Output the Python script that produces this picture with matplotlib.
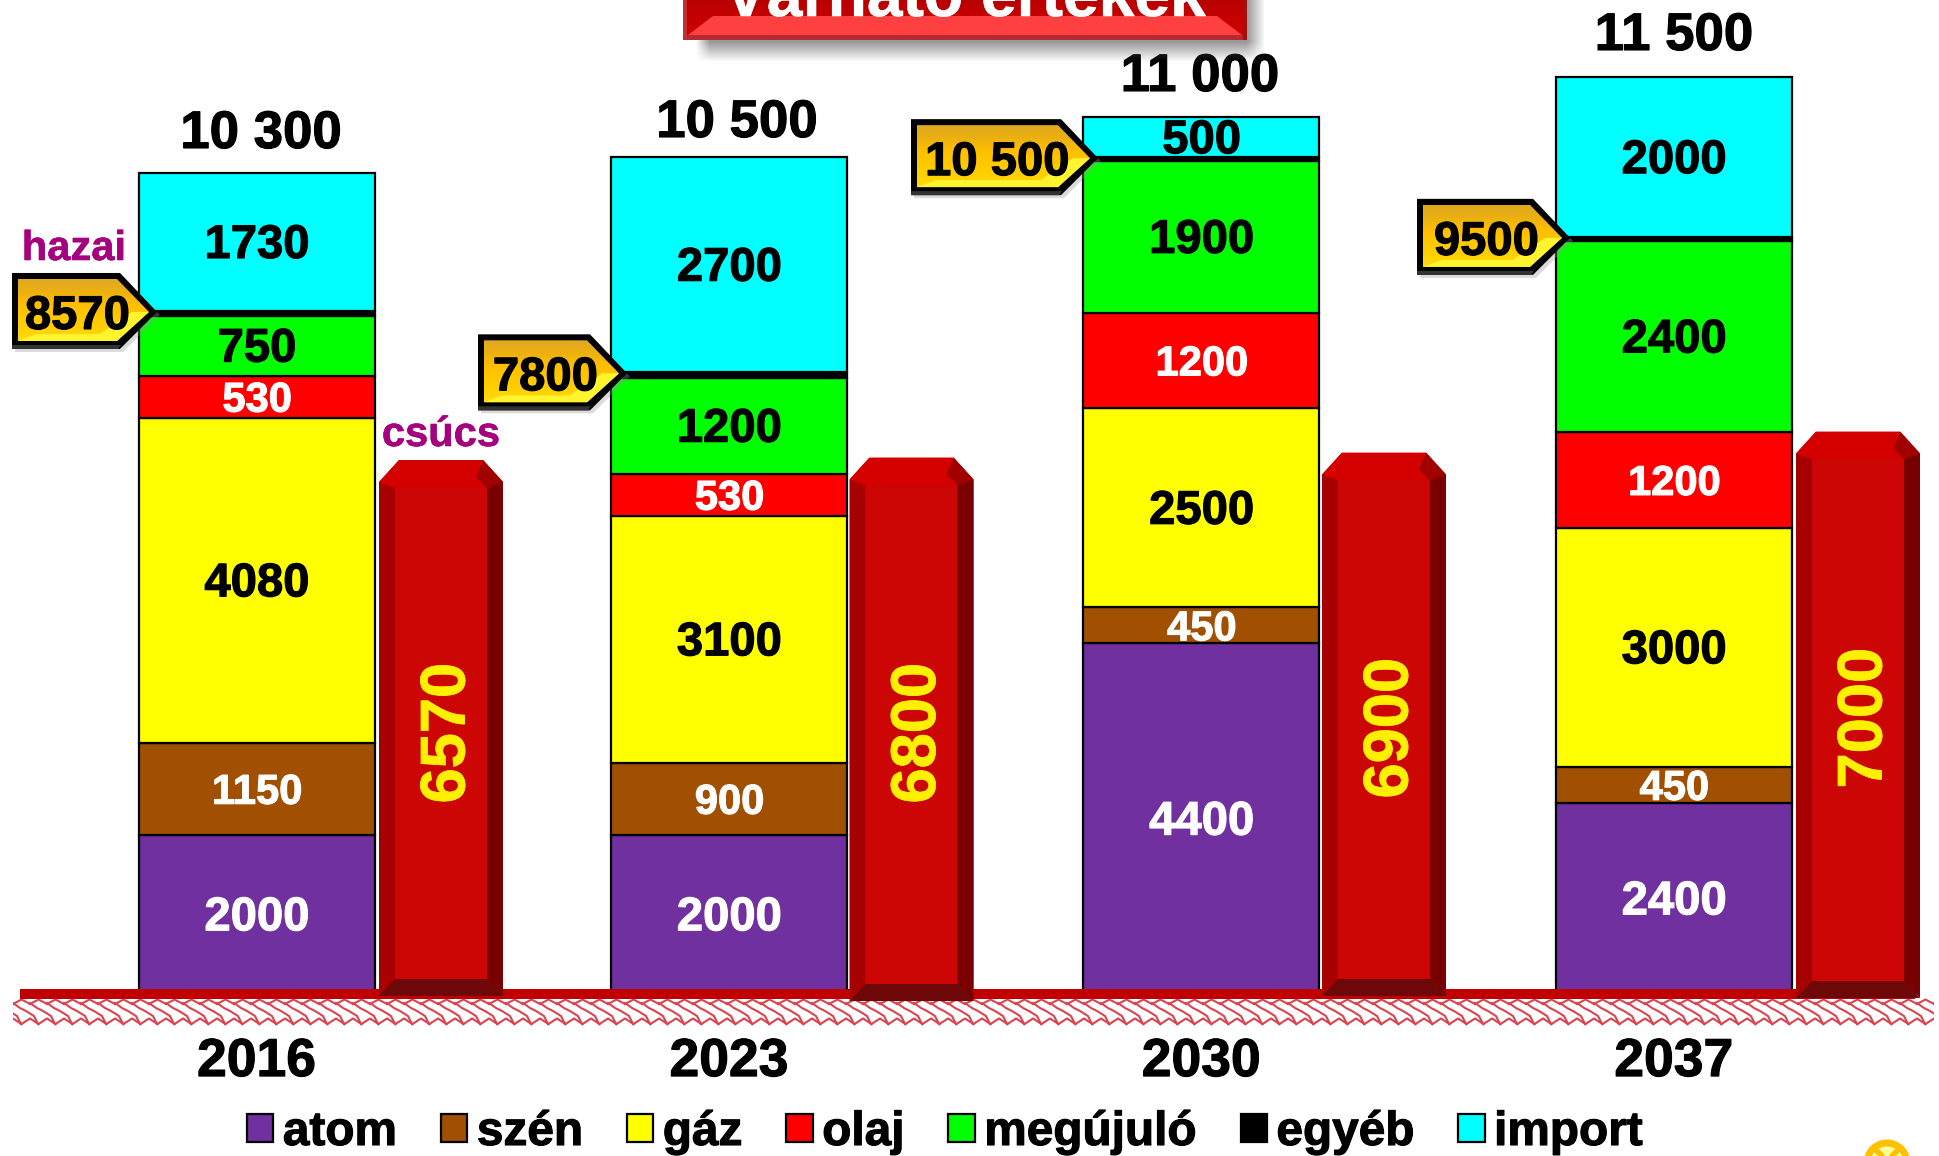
import numpy as np
import matplotlib
matplotlib.use("Agg")
import matplotlib.pyplot as plt
from matplotlib.patches import Polygon, Rectangle, Circle
import matplotlib.patheffects as pe
from matplotlib.colors import LinearSegmentedColormap

plt.rcParams['font.family'] = ['Liberation Sans', 'DejaVu Sans']
plt.rcParams['font.weight'] = 'bold'

# ---------- data ----------
years = ['2016', '2023', '2030', '2037']
series_names = ['atom', 'szén', 'gáz', 'olaj', 'megújuló', 'egyéb', 'import']
atom = [2000, 2000, 4400, 2400]
szen = [1150, 900, 450, 450]
gaz = [4080, 3100, 2500, 3000]
olaj = [530, 530, 1200, 1200]
megujulo = [750, 1200, 1900, 2400]
egyeb = [60, 70, 50, 50]
imports = [1730, 2700, 500, 2000]
totals = ['10 300', '10 500', '11 000', '11 500']
hazai = [8570, 7800, 10500, 9500]
hazai_labels = ['8570', '7800', '10 500', '9500']
csucs = [6570, 6800, 6900, 7000]
# drawn extents of the peak columns, in chart units
csucs_top = [6700, 6731, 6793, 7057]
csucs_base = [-25, -88, -25, -50]

colors = ['#7030A0', '#A05000', '#FFFF00', '#FF0000', '#00FF00', '#000000', '#00FFFF']
text_colors = ['white', 'white', 'black', 'white', 'black', None, 'black']
text_sizes = [34, 30, 34, 30, 34, 0, 34]

# ---------- layout ----------
W, H = 1939, 1156
BASE = 994.0
PX = 0.0797  # pixels per unit
centers = np.array([256.6, 729.0, 1201.3, 1673.8])
bar_w = 236
peak_x = [379, 849.5, 1322, 1796]
peak_w = 124
callout_left = [12, 478, 911, 1417]
callout_tip = [157, 627, 1098, 1570]
total_xy = [(261, 134), (737, 123), (1200, 77), (1674, 36)]
peak_label_y = [733, 733, 728, 718]
MAGENTA = '#A5007D'

y_px = lambda v: BASE - v * PX
u = lambda py: (BASE - py) / PX

fig = plt.figure(figsize=(W / 100, H / 100), dpi=100, facecolor='white')
ax = fig.add_axes([0, (H - BASE) / H, 1, BASE / H])
ax.set_xlim(0, W)
ax.set_ylim(0, BASE / PX)
for s in ax.spines.values():
    s.set_visible(False)
ax.set_yticks([])
ax.patch.set_alpha(0)


def txt(a, x, y, s, size, color='black', **kw):
    stroke = kw.pop('stroke', 0.8)
    t = a.text(x, y, s, fontsize=size, color=color, ha=kw.pop('ha', 'center'),
               va=kw.pop('va', 'center'), fontweight='bold', **kw)
    if stroke:
        t.set_path_effects([pe.withStroke(linewidth=stroke, foreground=color)])
    return t


# stacked bars
stack = [atom, szen, gaz, olaj, megujulo, egyeb, imports]
bottom = np.zeros(4)
handles = []
for i, vals in enumerate(stack):
    vals = np.array(vals, float)
    b = ax.bar(centers, vals, bar_w, bottom=bottom, color=colors[i],
               edgecolor='black', linewidth=1.6, label=series_names[i], zorder=3)
    handles.append(b)
    if text_colors[i]:
        for x, v, bt in zip(centers, vals, bottom):
            txt(ax, x + 0.5, bt + v / 2 - 50, f'{int(v)}', text_sizes[i], text_colors[i], zorder=6)
    bottom += vals

# ground line and hatched band
ax.add_patch(Rectangle((20, u(999)), 1895, u(989) - u(999), color='#C00000', lw=0,
                       zorder=3.5, clip_on=False))
for x0 in np.arange(13 - 17, W, 17.0):
    tx = np.array([0, 8.5, 17]) + x0
    ax.plot(tx, [u(1004), u(999.5), u(1004)], color='#DA4450', lw=1.5, zorder=1, clip_on=False)
    dx = np.array([0, 7, 13, 21, 25]) + x0
    ax.plot(dx, [u(1003), u(1008), u(1011), u(1016), u(1024)], color='#DA4450', lw=1.5,
            zorder=1, clip_on=False)
    bx = np.array([8.5, 17, 25.5]) + x0
    ax.plot(bx, [u(1024), u(1018.5), u(1024)], color='#DA4450', lw=1.5, zorder=1, clip_on=False)
ax.add_patch(Rectangle((0, u(1040)), 13, u(990) - u(1040), color='white', lw=0, zorder=1.5,
                       clip_on=False))
ax.add_patch(Rectangle((1934, u(1040)), 10, u(990) - u(1040), color='white', lw=0, zorder=1.5,
                       clip_on=False))

# peak columns
for i in range(4):
    X0 = peak_x[i]
    X1 = X0 + peak_w
    top, base = csucs_top[i], csucs_base[i]
    T, B = y_px(top), y_px(base)
    xi0, xi1 = X0 + 16, X1 - 16
    outline = Polygon([(X0, u(T + 22)), (X0 + 20, u(T)), (X1 - 20, u(T)), (X1, u(T + 22)),
                       (X1, u(B)), (X0, u(B))], transform=ax.transData, fc='none', ec='none')
    bars = ax.bar(X0 + peak_w / 2, top - base, peak_w, bottom=base, color='#CC0505', lw=0, zorder=4)
    for r in bars:
        r.set_clip_on(True)
        r.set_clip_path(outline)
    ax.add_patch(Polygon([(X0, u(T + 22)), (X0 + 20, u(T)), (X1 - 20, u(T)), (X1, u(T + 22)),
                          (xi1, u(T + 28)), (xi0, u(T + 28))], color='#D40000', lw=0, zorder=4.2))
    ax.add_patch(Polygon([(X1 - 20, u(T)), (X1, u(T + 22)), (xi1, u(T + 28)), (X1 - 27, u(T + 17))],
                         color='#A00000', lw=0, zorder=4.3))
    ax.add_patch(Polygon([(X0, u(T + 22)), (xi0, u(T + 28)), (xi0, u(B - 17)), (X0, u(B))],
                         color='#A60000', lw=0, zorder=4.3, clip_on=False))
    ax.add_patch(Polygon([(X1, u(T + 22)), (xi1, u(T + 28)), (xi1, u(B - 17)), (X1, u(B))],
                         color='#780000', lw=0, zorder=4.3, clip_on=False))
    ax.add_patch(Polygon([(xi0, u(B - 17)), (xi1, u(B - 17)), (X1, u(B)), (X0, u(B))],
                         color='#6E0808', lw=0, zorder=4.4, clip_on=False))
    txt(ax, X0 + peak_w / 2 + 7, u(peak_label_y[i]), str(csucs[i]), 45.5, '#FFF000', rotation=90, zorder=6,
        stroke=0.6)

# totals above the bars
for (x, py), s in zip(total_xy, totals):
    txt(ax, x, u(py), s, 38, zorder=7)

# axis labels
ax.set_xticks(centers)
ax.set_xticklabels(years, fontsize=38.5, fontweight='bold',
                   path_effects=[pe.withStroke(linewidth=0.8, foreground='black')])
ax.tick_params(axis='x', length=0, pad=31)

# legend
leg = ax.legend(handles=handles, labels=series_names, ncol=7, frameon=False, fontsize=34.4,
                loc='lower left', bbox_to_anchor=(247 / W, 1 - 1155 / H),
                bbox_transform=fig.transFigure, borderpad=0, borderaxespad=0,
                handlelength=0.55, handleheight=0.53, handletextpad=0.2, columnspacing=0.92)
for t in leg.get_texts():
    t.set_path_effects([pe.withStroke(linewidth=0.8, foreground='black')])
for p in leg.get_patches():
    p.set_linewidth(1.6)

# ---------- overlay in pixel coordinates ----------
ov = fig.add_axes([0, 0, 1, 1], zorder=10)
ov.set_axis_off()
ov.patch.set_alpha(0)


def grad(a, x0, x1, y0, y1, cols, clip=None, z=1):
    cm = LinearSegmentedColormap.from_list('g', cols)
    g = np.linspace(0, 1, 128).reshape(-1, 1)
    im = a.imshow(g, cmap=cm, extent=(x0, x1, y1, y0), aspect='auto', zorder=z, interpolation='bilinear')
    if clip is not None:
        im.set_clip_path(clip)
    return im


txt(ov, 74, 249, 'hazai', 30, MAGENTA, stroke=0.4)
txt(ov, 441, 435, 'csúcs', 30, MAGENTA, stroke=0.4)

# callouts
for i in range(4):
    L, Tip = callout_left[i], callout_tip[i]
    ty = y_px(hazai[i]) + 1
    top, bot = ty - 39, ty + 37
    sh = Tip - 37
    bw = 6
    outer = [(L, top), (sh, top), (Tip, ty), (sh, bot), (L, bot)]
    ov.add_patch(Polygon([(x + 3, y + 3) for x, y in outer], color='#999999', alpha=.35, lw=0, zorder=2))
    ov.add_patch(Polygon(outer, color='black', lw=0, zorder=3))
    inner = [(L + bw, top + bw), (sh - 3, top + bw), (Tip - 8, ty), (sh - 3, bot - bw - 2), (L + bw, bot - bw - 2)]
    clip = Polygon(inner, transform=ov.transData, fc='none', ec='none')
    ov.add_patch(clip)
    grad(ov, L, Tip, top + bw, bot - bw - 2,
         ['#E0A822', '#EBB010', '#FFBE00', '#FFC800', '#FFD000', '#FFDC10'], clip, z=4)
    ov.add_patch(Polygon([(L + bw, bot - bw - 2), (L + 25, ty + 22), (sh - 20, ty + 22), (sh + 12, ty),
                          (Tip - 8, ty), (sh - 3, bot - bw - 2)], color='#FFF42E', lw=0, zorder=4.5))
    ov.add_patch(Polygon([(L, bot - 4), (sh + 1, bot - 4), (sh - 2, bot), (L, bot)], color='#333333', lw=0, zorder=4.6))
    cx = (L + bw + sh + (Tip - sh) * 0.3) / 2 + 3
    txt(ov, cx, ty + 5, hazai_labels[i], 34, zorder=6)

# title plate
sx0, sx1, sy1 = 695, 1266, 62
xx = np.linspace(sx0, sx1, 300)
yy = np.linspace(0, sy1, 90)
ax_ramp = np.clip((xx - sx0) / 14, 0, 1) * np.clip((sx1 - xx) / 18, 0, 1)
ay_ramp = np.clip((sy1 - yy) / 20, 0, 1)
alpha = np.outer(ay_ramp, ax_ramp) * 0.62
rgba = np.zeros((90, 300, 4))
rgba[..., :3] = 0.35
rgba[..., 3] = alpha
ov.imshow(rgba, extent=(sx0, sx1, sy1, 0), aspect='auto', zorder=7, interpolation='bilinear')

px0, px1, py1 = 683, 1247, 40
grad(ov, px0, px1, 0, py1, ['#B80000', '#C80000', '#D00000'], z=8)
ov.add_patch(Polygon([(px0 + 5, py1 - 5), (px0 + 30, 16), (px1 - 30, 16), (px1 - 5, py1 - 5)],
                     color='#FF4040', lw=0, zorder=8.5))
ov.add_patch(Rectangle((px0, py1 - 5), px1 - px0, 5, color='#B52A30', lw=0, zorder=8.6))
ov.add_patch(Rectangle((px1 - 4, 0), 4, py1, color='#A01010', lw=0, zorder=8.6))
ov.add_patch(Rectangle((px0, 0), 4, py1, color='#C03030', lw=0, zorder=8.6))
txt(ov, 965, 16, 'Várható értékek', 46.2, 'white', va='baseline', zorder=9, stroke=0.4)

# corner logo
ov.add_patch(Circle((1887, 1163), 20, fc='#FFFF99', ec='#FFC000', lw=5, zorder=5))
ov.plot([1872, 1902], [1146, 1176], color='#FFC000', lw=4, zorder=6, solid_capstyle='butt')
ov.plot([1902, 1872], [1146, 1176], color='#FFC000', lw=4, zorder=6, solid_capstyle='butt')

ov.set_xlim(0, W)
ov.set_ylim(H, 0)
ax.set_xlim(0, W)
ax.set_ylim(0, BASE / PX)

fig.savefig('out.png', dpi=100, facecolor='white')
